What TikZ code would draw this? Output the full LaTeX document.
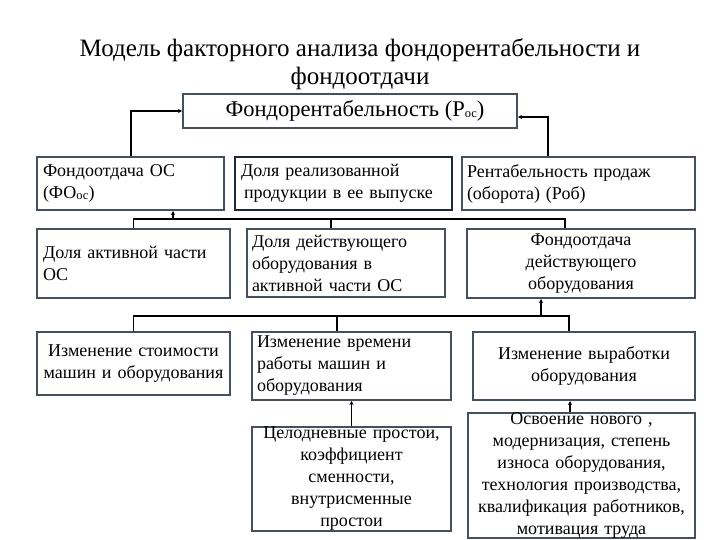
\documentclass[tikz,border=0pt]{standalone}
\usepackage{fontspec}
\setmainfont{Liberation Serif}
\usetikzlibrary{arrows.meta}
\definecolor{boxline}{HTML}{46505C}
\definecolor{boxdark}{HTML}{1E2833}
\newcommand{\subos}{\raisebox{-0.5pt}{\fontsize{12.5}{12.5}\selectfont ос}}
\tikzset{
  box/.style={draw=boxline, line width=2pt, fill=white, inner sep=0pt, font=\fontsize{18}{22}\selectfont},
  lbox/.style={box, align=left},
  cbox/.style={box, align=center},
  conn/.style={draw=black, line width=1.2pt},
  thick conn/.style={draw=black, line width=2pt},
  tip/.style={-{Stealth[length=4pt,width=4pt]}}
}
\begin{document}
\begin{tikzpicture}[x=1pt,y=-1pt]
\useasboundingbox[fill=white] (0,0) rectangle (720,540);

% title
\node[align=center, font=\fontsize{25}{28}\selectfont] (title) at (360,64)
  {Модель факторного анализа фондорентабельности и\\фондоотдачи};

% top box
\node[box, font=\fontsize{22.5}{24}\selectfont, minimum width=334pt, minimum height=34pt] (top) at (350,111)
  {\hspace*{10pt}Фондорентабельность (Р\subos)};

% row 1
\node[lbox, minimum width=187pt, minimum height=53pt, text width=175pt] (b1) at (130.5,183.5)
  {Фондоотдача ОС\\(ФО\subos)};
\node[lbox, draw=boxdark, minimum width=217pt, minimum height=53pt, text width=205pt] (b2) at (343.5,183.5)
  {Доля реализованной\\\hspace*{3pt}продукции в ее выпуске};
\node[lbox, minimum width=233pt, minimum height=53pt, text width=223pt] (b3) at (578.5,183.5)
  {Рентабельность продаж\\(оборота) (Роб)};

% row 2
\node[lbox, minimum width=193pt, minimum height=69pt, text width=181pt] (b4) at (133.5,263.5)
  {Доля активной части\\ОС};
\node[lbox, minimum width=198pt, minimum height=68pt, text width=188pt] (b5) at (346,263)
  {Доля действующего\\оборудования в\\активной части ОС};
\node[cbox, minimum width=228pt, minimum height=69pt, text width=222pt] (b6) at (581,263.5)
  {Фондоотдача\\действующего\\оборудования};

% row 3
\node[cbox, minimum width=193pt, minimum height=63pt, text width=191pt] (b7) at (133.5,363.5)
  {Изменение стоимости\\машин и оборудования};
\node[lbox, minimum width=199pt, minimum height=68pt, text width=189pt] (b8) at (351.5,366)
  {Изменение времени\\работы машин и\\оборудования};
\node[cbox, minimum width=222pt, minimum height=68pt, text width=216pt] (b9) at (584,366)
  {Изменение выработки\\оборудования};

% row 4
\node[cbox, minimum width=199pt, minimum height=102pt, text width=197pt] (b10) at (351.5,479)
  {Целодневные простои,\\коэффициент\\сменности,\\внутрисменные\\простои};
\node[cbox, minimum width=227pt, minimum height=125pt, text width=225pt] (b11) at (581.5,475.5)
  {Освоение нового ,\\модернизация, степень\\износа оборудования,\\технология производства,\\квалификация работников,\\мотивация труда};

% connectors to top box
\draw[thick conn, tip] (b1.north) |- (top.west);
\draw[thick conn, tip] ([xshift=-30.5pt]b3.north) |- ([yshift=-6pt]top.east);

% bus between row 1 and row 2
\coordinate (bus1) at (0,219);
\draw[conn] (b4.north) -- (b4.north |- bus1) -- ([xshift=-16pt]b6.north |- bus1) -- ([xshift=-16pt]b6.north);
\draw[conn] ([xshift=-15pt]b5.north |- bus1) -- ([xshift=-15pt]b5.north);
\draw[conn, tip] ([xshift=42.5pt]b1.south |- bus1) -- ([xshift=42.5pt]b1.south);

% bus between row 2 and row 3
\coordinate (bus2) at (0,316);
\draw[conn] (b7.north) -- (b7.north |- bus2) -- ([xshift=-15pt]b9.north |- bus2) -- ([xshift=-15pt]b9.north);
\draw[conn] ([xshift=-14.5pt]b8.north |- bus2) -- ([xshift=-14.5pt]b8.north);
\draw[conn, tip] ([xshift=-40pt]b6.south |- bus2) -- ([xshift=-40pt]b6.south);

% row 4 to row 3
\draw[conn, tip] (b10.north) -- (b8.south);
\draw[conn, tip] ([xshift=-11.5pt]b11.north) -- ([xshift=-11.5pt]b11.north |- b9.south);
\end{tikzpicture}
\end{document}
